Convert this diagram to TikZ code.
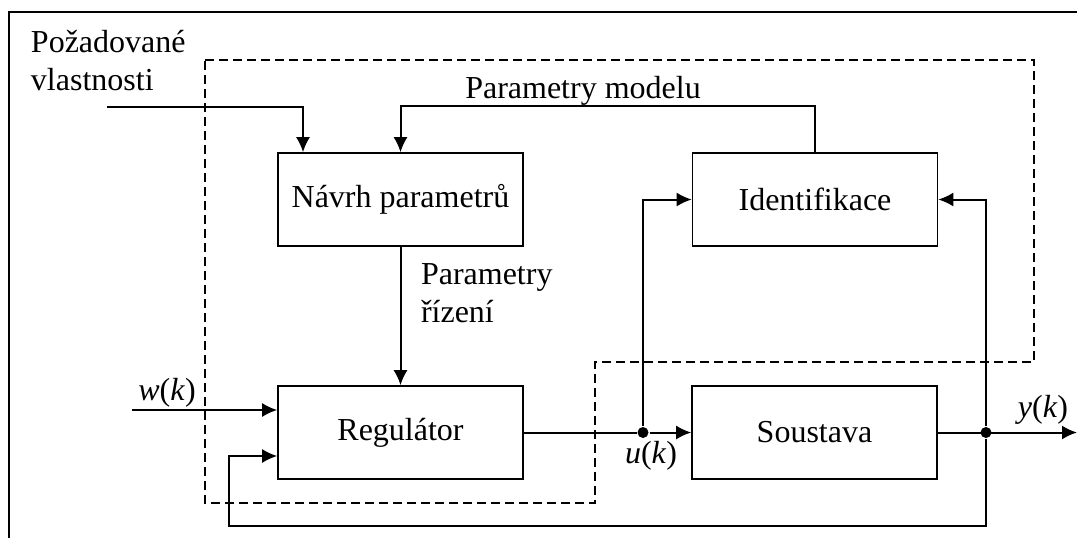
\documentclass[tikz,border=0pt]{standalone}
\usepackage{fontspec}
\setmainfont{Liberation Serif}
\usetikzlibrary{arrows.meta}

\begin{document}
\begin{tikzpicture}
[x=0.5pt,y=-0.5pt,line width=1pt,%
  font=\fontsize{16}{19}\selectfont,%
  blok/.style={draw,line width=0.8pt,minimum width=122.5pt,minimum height=46.5pt,inner sep=0pt},%
  popis/.style={inner sep=0pt,align=left},%
  sipka/.style={-{Latex[length=7.5pt,width=7pt]}},%
  carkovane/.style={dash pattern=on 4.5pt off 2.5pt},%
  uzel/.style={circle,fill,inner sep=0pt,minimum size=5.5pt}]
\useasboundingbox (0,0) rectangle (1077,538);
\draw (9,538) -- (9,12) -- (1077,12);
\draw[carkovane] (205,60) -- (1034,60) -- (1034,362) -- (595,362)
  -- (595,503) -- (205,503) -- cycle;
% bloky
\node[blok] (navrh) at (400.5,199.5) {Návrh parametrů};
\node[blok] (ident) at (815,199.5) {Identifikace};
\node[blok] (reg) at (400.5,432.5) {Regulátor};
\node[blok] (sous) at (814.5,432.5) {Soustava};
% body
\coordinate (pozad) at (107,107);
\coordinate (win) at (132,410);
\node[uzel] (uk) at (643,432.5) {};
\node[uzel] (yk) at (986,432.5) {};
\coordinate (vystup) at (1077,432.5);
\coordinate (zpet) at (229,526);
% popisy
\node[popis,anchor=base west] (tpozad) at (30,90) {Požadované\\vlastnosti};
\node[popis,anchor=base] (tmodel) at (583,98) {Parametry modelu};
\node[popis,anchor=base west] (trizeni) at (420,322) {Parametry\\řízení};
\node[popis,anchor=base] (tw) at (167,400) {\textit{w}(\textit{k})};
\node[popis,anchor=base] (tu) at (651,463) {\textit{u}(\textit{k})};
\node[popis,anchor=base] (ty) at (1043,417) {\textit{y}(\textit{k})};
% spoje
\draw[sipka] (pozad) -| ([xshift=-48.75pt]navrh.north);
\draw[sipka] (ident.north) -- ++(0,-46) -| (navrh.north);
\draw[sipka] (navrh.south) -- (reg.north);
\draw[sipka] (win) -- (win -| reg.west);
\draw (reg.east) -- (uk);
\draw[sipka] (uk) -- (sous.west);
\draw[sipka] (sous.east) -- (vystup);
\draw[sipka] (uk) |- (ident.west);
\draw[sipka] (yk) |- (ident.east);
\draw[sipka] (yk) |- (zpet) |- ([yshift=-11.75pt]reg.west);
\end{tikzpicture}
\end{document}
